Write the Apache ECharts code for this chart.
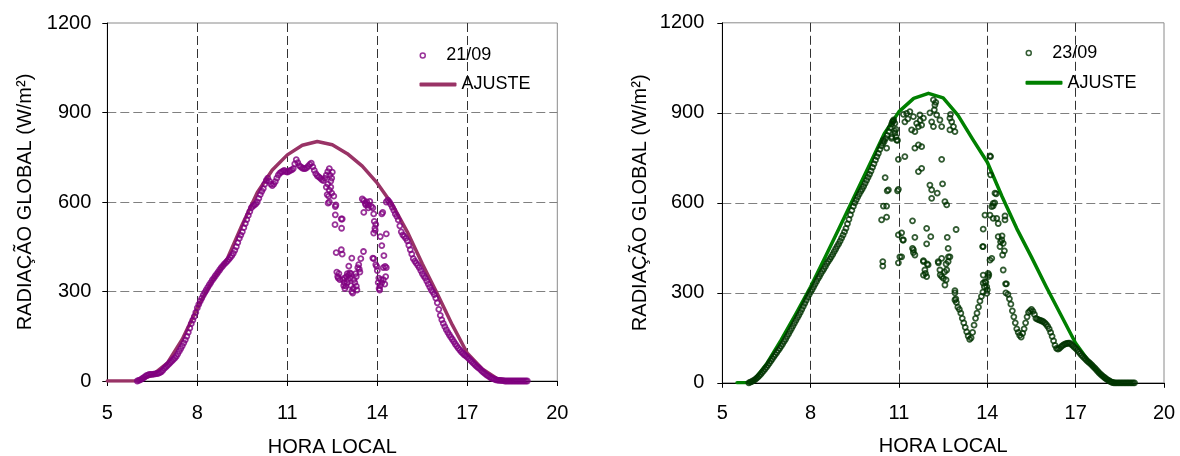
<!DOCTYPE html>
<html>
<head>
<meta charset="utf-8">
<script src="https://cdn.jsdelivr.net/npm/echarts@6/dist/echarts.min.js"></script>
<style>
  html, body { margin: 0; padding: 0; background: #fff; }
  #chart { width: 1180px; height: 456px; }
</style>
</head>
<body>
<div id="chart"></div>
<script>
// hours on the x axis start at 5, ticks every 3 h
const HOUR0 = 5
const DT = 0.05 // sampling step of the dense parts (3 min)

// ---- 21/09 ----
const obs21RiseStart = 6.0
const obs21Rise = [
    0, 2, 4, 7, 10, 14, 18, 20, 22, 22,
    22, 23, 24, 25, 26, 28, 31, 36, 42, 47,
    52, 57, 62, 67, 72, 77, 83, 91, 100, 109,
    118, 128, 138, 150, 163, 177, 192, 204, 216, 230,
    245, 257, 268, 278, 288, 297, 305, 314, 322, 330,
    338, 345, 352, 359, 366, 373, 380, 386, 392, 397,
    402, 408, 414, 420, 428, 438, 450, 464, 478, 489,
    500, 514, 528, 541, 555, 568, 580, 586, 590, 594,
    600, 612, 625, 636, 645, 660, 672, 680, 670, 660,
    655, 660, 668, 680, 690, 697, 700, 703, 706, 702,
    700, 703, 706, 708, 712, 728, 742, 732, 722, 718,
    714, 712, 712, 715, 720, 726, 730, 718, 706, 695,
    688, 684, 680, 675, 672, 680, 690, 702, 712
]
const obs21Mid = [
    [12.35, 660], [12.4, 640], [12.42, 690], [12.45, 670], [12.38, 620], [12.4, 600], [12.45, 650],
    [12.48, 630], [12.5, 700], [12.48, 680], [12.3, 650], [12.33, 625], [12.36, 596], [12.55, 620],
    [12.6, 585], [12.62, 590], [12.6, 557], [12.59, 524], [12.8, 543], [12.83, 543], [12.81, 512],
    [12.63, 430], [12.65, 365], [12.68, 350], [12.7, 345], [12.72, 360], [12.75, 340], [12.8, 440],
    [12.83, 425], [12.85, 340], [12.9, 330], [12.92, 310], [12.95, 318], [12.97, 350], [13.0, 360],
    [13.02, 340], [13.05, 355], [13.08, 362], [13.1, 345], [13.12, 320], [13.05, 385], [13.15, 300],
    [13.18, 295], [13.2, 310], [13.25, 330], [13.28, 360], [13.3, 350], [13.35, 380], [13.38, 390],
    [13.4, 375], [13.42, 365], [13.45, 410], [13.3, 318], [13.32, 305], [13.15, 412], [13.54, 434],
    [12.88, 320], [12.9, 345], [13.0, 330], [13.12, 360], [13.22, 340],
    [13.5, 610], [13.55, 605], [13.6, 595], [13.65, 600], [13.7, 590], [13.75, 602], [13.8, 585],
    [13.55, 565], [13.85, 580], [13.88, 560], [13.9, 535], [13.92, 512], [13.95, 525], [13.88, 496],
    [13.93, 505], [13.85, 412], [13.88, 410], [13.95, 390], [13.98, 384], [14.0, 370], [14.05, 345],
    [14.03, 330], [14.06, 310], [14.08, 305], [14.1, 320], [14.12, 340], [14.15, 330], [14.2, 340],
    [14.25, 325], [14.28, 350], [14.3, 380], [14.26, 384], [14.1, 484], [14.15, 454], [14.2, 380],
    [14.15, 560], [14.18, 565], [14.3, 493], [14.22, 420], [13.62, 590], [13.7, 580]
]
const obs21FallStart = 14.3
const obs21Fall = [
    600, 606, 600, 592, 582, 572, 560, 552, 540, 520,
    500, 490, 485, 478, 470, 455, 440, 425, 410, 402,
    395, 388, 380, 370, 360, 352, 345, 335, 325, 315,
    305, 298, 290, 278, 262, 240, 220, 205, 193, 182,
    172, 163, 155, 147, 140, 132, 124, 117, 110, 104,
    98, 93, 88, 84, 80, 75, 70, 65, 60, 55,
    50, 46, 42, 37, 32, 28, 24, 20, 17, 13,
    10, 8, 6, 4, 3, 2, 2, 1, 1, 0,
    0, 0, 0, 0, 0, 0, 0, 0, 0, 0,
    0, 0, 0, 0, 0
]
const fit21 = [
    [5, 0], [6, 0], [6.5, 20], [7, 60], [7.5, 140], [8, 245], [8.5, 335], [9, 410], [9.5, 525],
    [10, 632], [10.5, 707], [11, 758], [11.5, 790], [12, 803], [12.5, 792], [13, 762], [13.5, 720],
    [14, 663], [14.5, 592], [15, 500], [15.5, 393], [16, 292], [16.5, 188], [17, 93], [17.5, 40],
    [18, 8], [18.5, 0]
]

// ---- 23/09 ----
const obs23RiseStart = 5.9
const obs23Rise = [
    0, 2, 4, 7, 10, 14, 18, 23, 28, 34,
    40, 46, 52, 59, 66, 73, 80, 87, 94, 101,
    108, 115, 122, 130, 138, 146, 155, 163, 172, 181,
    190, 199, 208, 217, 226, 235, 245, 255, 265, 275,
    285, 294, 303, 311, 320, 329, 338, 347, 355, 364,
    372, 380, 388, 397, 405, 412, 420, 428, 437, 446,
    455, 463, 472, 482, 492, 503, 515, 530, 545, 560,
    575, 588, 600, 610, 620, 629, 638, 646, 655, 665,
    675, 685, 695, 706, 718, 730, 742, 754, 765, 778,
    790, 798, 805, 815, 825, 838, 850, 862, 872, 840,
    820, 808
]
const obs23Mid = [
    [10.47, 809], [10.58, 782], [10.75, 820], [10.92, 809], [10.86, 865], [10.78, 870], [10.82, 876],
    [10.86, 832], [10.75, 815], [10.9, 845],
    [11.26, 898], [11.2, 870], [11.37, 904], [11.49, 887], [11.43, 843], [11.6, 865], [11.71, 893],
    [11.66, 854], [11.54, 837], [11.83, 882], [11.77, 859], [12.05, 900], [12.17, 943], [12.22, 926],
    [12.11, 870], [12.28, 893], [12.17, 854], [12.45, 854], [12.39, 876], [12.73, 882], [12.79, 870],
    [12.85, 854], [12.73, 843], [12.9, 837], [11.15, 895], [11.3, 880], [11.72, 875], [12.2, 910],
    [12.25, 935], [12.75, 895],
    [11.66, 793], [11.77, 787], [11.54, 782], [10.98, 745], [11.2, 754], [12.45, 745], [11.66, 704],
    [11.77, 715], [10.53, 684], [10.64, 643], [10.98, 645], [12.05, 659], [12.11, 643], [12.3, 632],
    [12.11, 615], [12.48, 663], [12.56, 604], [12.62, 593], [10.47, 589], [10.58, 589], [10.41, 543],
    [10.58, 552], [10.6, 640], [10.95, 640],
    [10.98, 493], [11.09, 500], [11.13, 476], [11.46, 540], [11.54, 485], [11.94, 515], [12.08, 487],
    [11.94, 463], [12.64, 485], [12.94, 511], [11.46, 448], [11.49, 434], [11.03, 420], [10.98, 400],
    [10.45, 404], [10.45, 389], [12.45, 415], [12.68, 420], [12.34, 400], [11.83, 407], [11.96, 396],
    [12.6, 396], [11.15, 476], [11.09, 420], [11.49, 443], [11.54, 426], [11.83, 404], [11.88, 376],
    [11.94, 354], [11.83, 359], [11.99, 393], [12.33, 404], [12.39, 376], [12.51, 348], [12.56, 326],
    [12.67, 404], [12.62, 376], [12.73, 420], [12.67, 448], [12.45, 354], [12.6, 343], [11.9, 365],
    [12.4, 360], [12.55, 370], [12.9, 307], [12.9, 276], [12.93, 280],
    [14.09, 756], [14.11, 754], [14.11, 693], [14.26, 632], [14.2, 598], [14.15, 587], [14.09, 559],
    [14.2, 548], [14.32, 548], [14.6, 556], [14.37, 531], [14.6, 543], [14.37, 487], [14.49, 476],
    [14.54, 465], [14.43, 454], [14.52, 426], [14.54, 376], [14.09, 409], [14.15, 415], [13.86, 454],
    [13.86, 512], [14.03, 354], [13.98, 320], [13.98, 298], [13.86, 332], [13.92, 337], [13.86, 359],
    [14.03, 365], [13.84, 454], [13.92, 559], [14.2, 590], [14.25, 600], [14.3, 630], [14.45, 470],
    [14.5, 490], [14.58, 440], [14.62, 330], [14.63, 300]
]
const obs23DipStart = 12.9
const obs23Dip = [
    300, 268, 252, 245, 232, 215, 200, 185, 170, 156,
    145, 150, 168, 192, 215, 232, 252, 272, 288, 302,
    320, 335, 310, 360
]
const obs23FallStart = 14.65
const obs23Fall = [
    330, 295, 280, 262, 240, 220, 200, 180, 168, 158,
    152, 165, 180, 200, 220, 235, 240, 245, 238, 228,
    215, 212, 210, 208, 206, 204, 200, 195, 188, 180,
    168, 155, 140, 125, 115, 112, 115, 120, 124, 127,
    130, 131, 132, 132, 128, 124, 119, 115, 110, 104,
    98, 92, 87, 82, 77, 72, 68, 64, 59, 54,
    49, 44, 38, 33, 28, 24, 20, 16, 12, 9,
    6, 3, 1, 0, 0, 0, 0, 0, 0, 0,
    0, 0, 0, 0, 0, 0, 0, 0
]
const fit23 = [
    [5.5, 0], [6, 0], [6.5, 62], [7, 143], [7.5, 230], [8, 320], [8.5, 420], [9, 522], [9.5, 624],
    [10, 727], [10.5, 830], [11, 904], [11.5, 948], [12, 965], [12.5, 950], [13, 892], [13.5, 812],
    [14, 735], [14.5, 621], [15, 514], [15.5, 419], [16, 320], [16.5, 226], [17, 132], [17.5, 64],
    [18, 12], [18.5, 0]
]

const xTicks = [5, 8, 11, 14, 17, 20]
const yTicks = [0, 300, 600, 900, 1200]

const FONT = 'Liberation Sans, Arial, sans-serif'

function sampled(start, values) {
    return values.map((v, i) => [start + i * DT, v])
}
function toAxis(points) {
    return points.map(p => [p[0] - HOUR0, p[1]])
}

function axes(idx, yNameGap, yLabelMargin, xNameGap, xLabelMargin) {
    const x = {
        type: 'value', gridIndex: idx,
        min: xTicks[0] - HOUR0, max: xTicks[xTicks.length - 1] - HOUR0,
        interval: xTicks[1] - xTicks[0],
        name: 'HORA LOCAL', nameLocation: 'middle', nameGap: xNameGap,
        nameTextStyle: { fontFamily: FONT, fontSize: 20, color: '#000' },
        axisLine: { show: true, onZero: false, lineStyle: { color: '#000', width: 1 } },
        axisTick: { show: true, inside: false, length: 5, lineStyle: { color: '#000' } },
        axisLabel: { fontFamily: FONT, fontSize: 20, color: '#000', margin: xLabelMargin,
            formatter: v => String(v + HOUR0) },
        splitLine: { show: true, showMinLine: false, showMaxLine: false,
            lineStyle: { color: '#333', width: 1, type: [9, 4] } }
    }
    const y = {
        type: 'value', gridIndex: idx,
        min: yTicks[0], max: yTicks[yTicks.length - 1], interval: yTicks[1] - yTicks[0],
        name: 'RADIAÇÃO GLOBAL (W/m²)', nameLocation: 'middle', nameGap: yNameGap,
        nameTextStyle: { fontFamily: FONT, fontSize: 20, color: '#000' },
        axisLine: { show: true, onZero: false, lineStyle: { color: '#000', width: 1 } },
        axisTick: { show: true, inside: false, length: 5, lineStyle: { color: '#000' } },
        axisLabel: { fontFamily: FONT, fontSize: 20, color: '#000', margin: yLabelMargin,
            formatter: v => String(v) },
        splitLine: { show: true, showMinLine: false, showMaxLine: false,
            lineStyle: { color: '#808080', width: 1, type: [9, 4] } }
    }
    return [x, y]
}

function scatterSeries(name, idx, points, color) {
    return {
        name: name, type: 'scatter', xAxisIndex: idx, yAxisIndex: idx, z: 3,
        data: toAxis(points),
        symbol: 'circle', symbolSize: 5,
        itemStyle: { color: 'rgba(0,0,0,0)', borderColor: color, borderWidth: 1.8 },
        emphasis: { disabled: true }
    }
}
function fitSeries(name, idx, points, color) {
    return {
        name: name, type: 'line', xAxisIndex: idx, yAxisIndex: idx, z: 2,
        data: toAxis(points),
        showSymbol: false, symbol: 'none', smooth: false,
        itemStyle: { color: color },
        lineStyle: { color: color, width: 3.5, cap: 'round', join: 'round' },
        emphasis: { disabled: true }
    }
}
function legends(left, top1, top2, scatterName, fitName, dotColor, lineColor) {
    const text = { fontFamily: FONT, fontSize: 18, color: '#000', lineHeight: 20 }
    return [{
        data: [scatterName], left: left, top: top1, padding: 0, selectedMode: false,
        itemWidth: 37, itemHeight: 5, icon: 'circle', textStyle: text,
        itemStyle: { color: 'rgba(0,0,0,0)', borderColor: dotColor, borderWidth: 1.5 }
    }, {
        data: [fitName], left: left, top: top2, padding: 0, selectedMode: false,
        itemWidth: 37, itemHeight: 4, icon: 'roundRect', textStyle: text,
        formatter: 'AJUSTE',
        itemStyle: { color: lineColor }
    }]
}

const chart = echarts.init(document.getElementById('chart'))
const [x0, y0] = axes(0, 72, 16, 56, 22)
const [x1, y1] = axes(1, 72, 18, 54, 21)

const c21dot = '#800080', c21fit = '#993366'
const c23dot = '#003300', c23fit = '#008000'

chart.setOption({
    animation: false,
    backgroundColor: '#fff',
    grid: [
        { left: 107.3, right: 622.7, top: 23, bottom: 75, show: true, borderColor: '#8a8a8a', borderWidth: 1,
          outerBoundsMode: 'none', containLabel: false },
        { left: 722.3, right: 16, top: 22.8, bottom: 73.2, show: true, borderColor: '#8a8a8a', borderWidth: 1,
          outerBoundsMode: 'none', containLabel: false }
    ],
    xAxis: [x0, x1],
    yAxis: [y0, y1],
    legend: [
        ...legends(419.5, 45.5, 74.5, '21/09', 'fit21', c21dot, c21fit),
        ...legends(1025.5, 43, 72.7, '23/09', 'fit23', c23dot, c23fit)
    ],
    series: [
        fitSeries('fit21', 0, fit21, c21fit),
        scatterSeries('21/09', 0,
            sampled(obs21RiseStart, obs21Rise)
                .concat(obs21Mid)
                .concat(sampled(obs21FallStart, obs21Fall)), c21dot),
        fitSeries('fit23', 1, fit23, c23fit),
        scatterSeries('23/09', 1,
            sampled(obs23RiseStart, obs23Rise)
                .concat(obs23Mid)
                .concat(sampled(obs23DipStart, obs23Dip))
                .concat(sampled(obs23FallStart, obs23Fall)), c23dot)
    ]
})
</script>
</body>
</html>
